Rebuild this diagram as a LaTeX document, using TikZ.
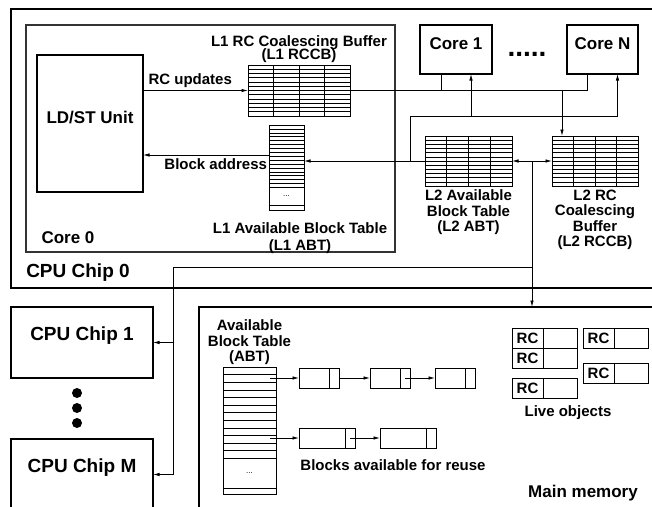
\documentclass[tikz,border=0pt]{standalone}
\usepackage{fontspec}
\setmainfont{Liberation Sans}
\usetikzlibrary{arrows.meta,positioning,fit,calc}

\newcommand{\bigtxt}{\fontsize{17}{19}\selectfont\bfseries}
\newcommand{\chiptxt}{\fontsize{19}{21}\selectfont\bfseries}
\newcommand{\labtxt}{\fontsize{15}{15.5}\selectfont\bfseries}

\begin{document}
\begin{tikzpicture}[x=1pt, y=-1pt, inner sep=0pt, outer sep=0pt, font=\labtxt,
   chip/.style={draw, line width=1.8pt, font=\chiptxt},
   unit/.style={draw, line width=1.1pt, font=\bigtxt},
   tbl/.style={draw, line width=1pt},
   row/.style={line width=0.6pt},
   blk/.style={draw, line width=0.9pt, minimum width=40pt, minimum height=20pt},
   rc/.style={draw, line width=0.9pt, minimum width=31pt, minimum height=20pt},
   rcval/.style={draw, line width=0.9pt, minimum width=34pt, minimum height=20pt},
   lbl/.style={align=center},
   wire/.style={line width=0.8pt},
   arr/.style={wire, -{Latex[length=6.5pt,width=3.5pt]}},
   dual/.style={wire, {Latex[length=6.5pt,width=3.5pt]}-{Latex[length=6.5pt,width=3.5pt]}}]
  \clip (0,0) rectangle (652,506);

  % CPU chip 0 and its cores
  \node[chip, fit={(11,9)(670,288)}] (chip0) {};
  \node[unit, draw=black!80, fit={(26,25)(395,252)}] (core0) {};
  \node[unit, fit={(37,55)(143,192)}] (ldst) {LD/ST Unit};
  \node[unit, fit={(420,25)(492,74)}] (core1) {Core 1};
  \node[unit, fit={(567,25)(638,74)}] (coreN) {Core N};
  \node[font=\fontsize{28}{28}\selectfont\bfseries] (more) at (527,54) {.....};
  \node[font=\bigtxt] (core0txt) at (68,238) {Core 0};
  \node[font=\chiptxt] (chip0txt) at (78,273) {CPU Chip 0};

  % buffers and block tables
  \node[tbl, fit={(248,65)(350,116)}] (l1rccb) {};
  \node[tbl, fit={(425,136)(512,186)}] (l2abt) {};
  \node[tbl, fit={(552,136)(638,186)}] (l2rccb) {};
  \foreach \t in {l1rccb,l2abt,l2rccb} {
    \foreach \i in {1,...,11}
      \draw[row] ($(\t.north west)!\i/12!(\t.south west)$) -- ($(\t.north east)!\i/12!(\t.south east)$);
    \foreach \i in {1,2,3}
      \draw[row] ($(\t.north west)!\i/4!(\t.north east)$) -- ($(\t.south west)!\i/4!(\t.south east)$);
  }
  \node[tbl, fit={(269,125)(304,210)}] (l1abt) {};
  \foreach \i in {1,...,16}
    \draw[row] ([yshift=-\i*3.9pt]l1abt.north west) -- ([yshift=-\i*3.9pt]l1abt.north east);
  \draw[row] ([yshift=5pt]l1abt.south west) -- ([yshift=5pt]l1abt.south east);
  \node[font=\fontsize{8}{8}\selectfont] (l1dots) at ([yshift=14pt]l1abt.south) {...};

  \node[lbl, above=2pt of l1rccb] (l1rccbtxt) {L1 RC Coalescing Buffer\\[-2pt](L1 RCCB)};
  \node[lbl] (l1abttxt) at (300,238) {L1 Available Block Table\\[1.5pt](L1 ABT)};
  \node[lbl, below=4pt of l2abt] (l2abttxt) {L2 Available\\Block Table\\(L2 ABT)};
  \node[lbl, below=4pt of l2rccb] (l2rccbtxt) {L2 RC\\Coalescing\\Buffer\\(L2 RCCB)};

  % other chips and main memory
  \node[chip, fit={(11,307)(153,378)}] (chip1) {CPU Chip 1};
  \node[chip, fit={(11,439)(153,510)}] (chipM) {CPU Chip M};
  \foreach \y in {393,408,423}
    \fill (77,\y) circle (5pt);
  \node[chip, fit={(199,307)(670,520)}] (mem) {};
  \node[font=\bigtxt] (memtxt) at (583,493) {Main memory};

  \node[tbl, fit={(223,367)(276,494)}] (abt) {};
  \foreach \i in {1,...,12}
    \draw[row] ([yshift=-\i*7.6pt]abt.north west) -- ([yshift=-\i*7.6pt]abt.north east);
  \draw[row] ([yshift=6pt]abt.south west) -- ([yshift=6pt]abt.south east);
  \node[font=\fontsize{8}{8}\selectfont] (abtdots) at ([yshift=21pt]abt.south) {...};
  \node[lbl, above=2pt of abt] (abttxt) {Available\\Block Table\\(ABT)};

  % free blocks
  \node[blk, anchor=north west] (b11) at (299,368) {};
  \node[blk, right=31pt of b11] (b12) {};
  \node[blk, right=25pt of b12] (b13) {};
  \node[blk, minimum width=56pt, anchor=north west] (b21) at (299,428) {};
  \node[blk, minimum width=56pt, right=25pt of b21] (b22) {};
  \foreach \b in {b11,b12,b13,b21,b22}
    \draw[row] ([xshift=-10pt]\b.north east) -- ([xshift=-10pt]\b.south east);
  \node (reuse) at (393,465) {Blocks available for reuse};

  % live objects
  \node[rc, anchor=north west] (rc1) at (512,328) {RC};
  \node[rcval, right=0pt of rc1] (rc1v) {};
  \node[rc, below=0pt of rc1] (rc2) {RC};
  \node[rcval, right=0pt of rc2] (rc2v) {};
  \node[rc, below=10pt of rc2] (rc3) {RC};
  \node[rcval, right=0pt of rc3] (rc3v) {};
  \node[rc, right=6pt of rc1v] (rc4) {RC};
  \node[rcval, right=0pt of rc4] (rc4v) {};
  \node[rc, below=15pt of rc4] (rc5) {RC};
  \node[rcval, right=0pt of rc5] (rc5v) {};
  \node (live) at (568,413) {Live objects};

  % connections inside chip 0
  \draw[arr] (ldst.east |- l1rccb.west) -- node[above=3pt, pos=0.45] {RC updates} (l1rccb.west);
  \coordinate (blkaddr) at ([yshift=12.5pt]l1abt.west);
  \draw[arr] (blkaddr) -- node[below left=4pt and 2pt, pos=0] {Block address} (blkaddr -| ldst.east);
  \draw[wire] (l1rccb.east) -| ([xshift=-15pt]coreN.south);
  \draw[wire] ([xshift=-15pt]core1.south) -- ([xshift=-15pt]core1.south |- l1rccb.east);
  \draw[arr] ([xshift=-33pt]l2rccb.north |- l1rccb.east) -- ([xshift=-33pt]l2rccb.north);
  \coordinate (abtbus) at (410,116);
  \draw[arr] (l2abt.west) -- (l2abt.west -| l1abt.east);
  \draw[arr] (abtbus |- l2abt.west) -- (abtbus) -| ([xshift=15pt]coreN.south);
  \draw[arr] ([xshift=15pt]core1.south |- abtbus) -- ([xshift=15pt]core1.south);
  \coordinate (l2mid) at ($(l2abt.east)!.5!(l2rccb.west)$);
  \draw[dual] (l2abt.east) -- (l2rccb.west);

  % connections to other chips and memory
  \draw[arr] (l2mid) -- (l2mid |- mem.north);
  \coordinate (chipbus) at (173,267);
  \draw[wire] (l2mid |- chipbus) -- (chipbus);
  \draw[arr] (chipbus) |- (chipM.east);
  \draw[arr] (chipbus |- chip1.east) -- (chip1.east);
  \draw[arr] ([xshift=-6pt]abt.east |- b11.west) -- (b11.west);
  \draw[arr] ([xshift=-6pt]abt.east |- b21.west) -- (b21.west);
  \draw[arr] (b11.east) -- (b12.west);
  \draw[arr] ([xshift=-5pt]b12.east) -- (b13.west);
  \draw[arr] ([xshift=-5pt]b21.east) -- (b22.west);
\end{tikzpicture}
\end{document}
